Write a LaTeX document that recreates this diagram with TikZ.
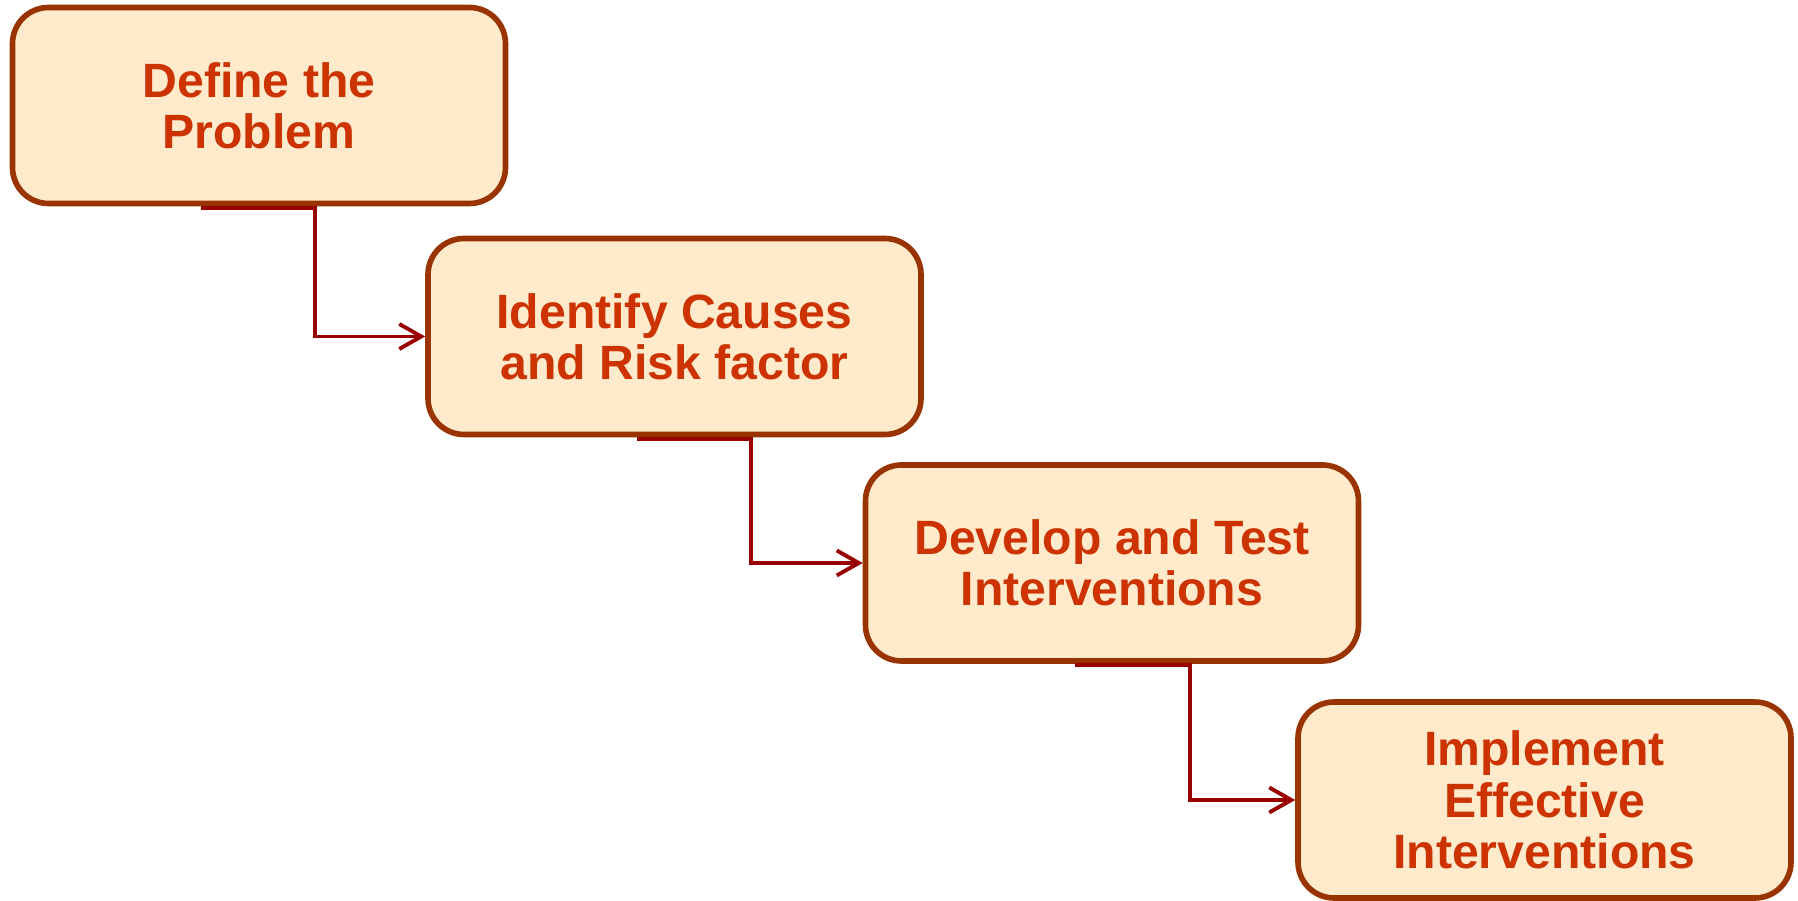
\documentclass[tikz,border=0pt]{standalone}
\usepackage{fontspec}
\setmainfont{Liberation Sans}
\usetikzlibrary{calc,arrows.meta}

\definecolor{boxfill}{HTML}{FFEACC}
\definecolor{boxline}{HTML}{993300}
\definecolor{boxtext}{HTML}{CC3300}
\definecolor{linkred}{HTML}{990000}

\tikzset{
	stage/.style={draw=boxline, fill=boxfill, line width=1.6pt, rounded corners=0.36cm,
		minimum width=4.93cm, minimum height=1.96cm, align=center, text=boxtext,
		font=\fontsize{13.7}{14.6}\selectfont\bfseries},
	link/.style={draw=linkred, line width=1.1pt, -{Straight Barb[length=2.2mm,width=2.5mm]}}
}

\begin{document}
\begin{tikzpicture}
		%%%%% START %%%%%
		\useasboundingbox (0, 0) rectangle (17.98, 9.01);
		
		\node[stage] (define) at (2.59, 7.955) {Define the\\Problem};
		\node[stage] (cause) at (6.745, 5.645) {Identify Causes\\and Risk factor};
		\node[stage] (test) at (11.12, 3.38) {Develop and Test\\Interventions};
		\node[stage] (apply) at (15.445, 1.01) {Implement\\Effective\\Interventions};
		
		% elbow links, each starting on the bottom edge of the box above
		\coordinate (d1) at ($(define.south west)+(1.91, -0.015)$);
		\coordinate (d2) at ($(cause.south west)+(2.12, -0.015)$);
		\coordinate (d3) at ($(test.south west)+(2.12, -0.015)$);
		
		\draw[link] (d1) -- ++(1.14, 0) |- (cause.west);
		\draw[link] (d2) -- ++(1.14, 0) |- (test.west);
		\draw[link] (d3) -- ++(1.15, 0) |- (apply.west);
		
		%%%%% END %%%%%
	\end{tikzpicture}
\end{document}
